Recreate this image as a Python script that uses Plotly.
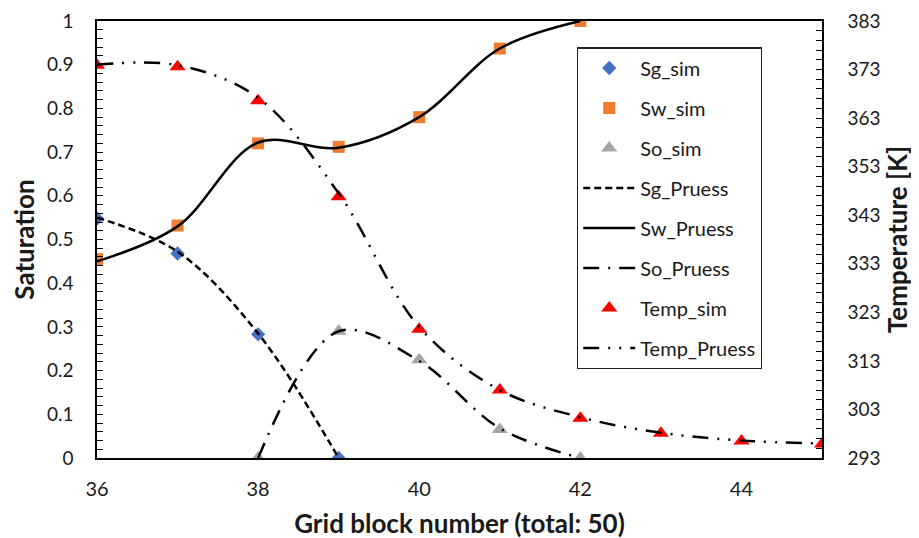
import plotly.graph_objects as go

# ---- data ----
x_sg_sim = [36, 37, 38, 39]
sg_sim = [0.548, 0.468, 0.283, 0.0]

x_sw_sim = [36, 37, 38, 39, 40, 41, 42]
sw_sim = [0.455, 0.532, 0.720, 0.712, 0.780, 0.937, 1.0]

x_so_sim = [38, 39, 40, 41, 42]
so_sim = [0.0, 0.290, 0.225, 0.065, 0.0]

x_temp_sim = [36, 37, 38, 39, 40, 41, 42, 43, 44, 45]
temp_sim = [373.9, 373.6, 366.6, 346.8, 319.5, 307.0, 301.2, 298.1, 296.5, 295.9]

x_sg_pr = [36, 37, 38, 39]
sg_pr = [0.550, 0.472, 0.285, 0.0]

x_sw_pr = [36, 37, 38, 39, 40, 41, 42]
sw_pr = [0.450, 0.530, 0.722, 0.710, 0.780, 0.937, 1.0]

x_so_pr = [38, 39, 40, 41, 42]
so_pr = [0.0, 0.290, 0.222, 0.068, 0.0]

x_temp_pr = [36, 37, 38, 39, 40, 41, 42, 43, 44, 45]
temp_pr = [374.0, 373.9, 367.2, 347.5, 320.0, 307.0, 301.4, 298.2, 296.6, 296.0]

sat_ticks = [0, 0.1, 0.2, 0.3, 0.4, 0.5, 0.6, 0.7, 0.8, 0.9, 1]
sat_labels = ["0", "0.1", "0.2", "0.3", "0.4", "0.5", "0.6", "0.7", "0.8", "0.9", "1"]
temp_ticks = [293, 303, 313, 323, 333, 343, 353, 363, 373, 383]
x_ticks = [36, 38, 40, 42, 44]

FONT = "Lato"
TXT = "#1a1a1a"

fig = go.Figure()

def add(tr, i):
    tr.legendgroup = "g%d" % i
    fig.add_trace(tr)

add(go.Scatter(x=x_sg_sim, y=sg_sim, mode="markers", name="Sg_sim",
               marker=dict(symbol="diamond", color="#4472C4", size=11)), 1)
add(go.Scatter(x=x_sw_sim, y=sw_sim, mode="markers", name="Sw_sim",
               marker=dict(symbol="square", color="#ED7D31", size=12)), 2)
add(go.Scatter(x=x_so_sim, y=so_sim, mode="markers", name="So_sim",
               marker=dict(symbol="triangle-up", color="#A5A5A5", size=14)), 3)
add(go.Scatter(x=x_sg_pr, y=sg_pr, mode="lines", name="Sg_Pruess",
               line=dict(color="black", width=2.5, dash="7px,4px", shape="spline")), 4)
add(go.Scatter(x=x_sw_pr, y=sw_pr, mode="lines", name="Sw_Pruess",
               line=dict(color="black", width=2.5, shape="spline")), 5)
add(go.Scatter(x=x_so_pr, y=so_pr, mode="lines", name="So_Pruess",
               line=dict(color="black", width=2.5, dash="16px,9px,2px,9px", shape="spline")), 6)
add(go.Scatter(x=x_temp_sim, y=temp_sim, mode="markers", name="Temp_sim", yaxis="y2",
               marker=dict(symbol="triangle-up", color="#FF0000", size=14)), 7)
add(go.Scatter(x=x_temp_pr, y=temp_pr, mode="lines", name="Temp_Pruess", yaxis="y2",
               line=dict(color="black", width=2.5, dash="16px,9px,2px,9px,2px,9px", shape="spline")), 8)

fig.update_layout(
    width=919, height=538,
    margin=dict(l=89, r=105, t=13, b=88, autoexpand=False),
    paper_bgcolor="white", plot_bgcolor="white",
    font=dict(family=FONT, size=19, color=TXT),
    showlegend=True,
    legend=dict(x=0.662, y=0.94, xanchor="left", yanchor="top",
                bgcolor="white", bordercolor="#222", borderwidth=1.3,
                font=dict(family=FONT, size=20, color=TXT),
                traceorder="grouped", tracegroupgap=11,
                itemwidth=52),
    xaxis=dict(range=[36, 45], tickvals=x_ticks, ticks="",
               showgrid=False, zeroline=False, automargin=False,
               showline=True, linecolor="black", linewidth=1.5, mirror=True,
               ticklabelstandoff=12,
               title=dict(text="<b>Grid block number (total: 50)</b>", font=dict(size=26), standoff=16),
               tickfont=dict(size=20)),
    yaxis=dict(range=[0, 1], tickvals=sat_ticks, ticktext=sat_labels,
               ticks="inside", ticklen=6, tickcolor="black", tickwidth=1.2,
               minor=dict(dtick=0.02, ticks="inside", ticklen=6, tickcolor="black", tickwidth=1.2),
               showgrid=False, zeroline=False, automargin=False,
               showline=True, linecolor="black", linewidth=1.5,
               ticklabelstandoff=18,
               title=dict(text="<b>Saturation</b>", font=dict(size=26), standoff=6),
               tickfont=dict(size=19)),
    yaxis2=dict(range=[293, 383], overlaying="y", side="right",
                tickvals=temp_ticks,
                ticks="inside", ticklen=6, tickcolor="black", tickwidth=1.2,
                minor=dict(dtick=2, tick0=293, ticks="inside", ticklen=6, tickcolor="black", tickwidth=1.2),
                showgrid=False, zeroline=False, automargin=False,
                showline=True, linecolor="black", linewidth=1.5,
                ticklabelstandoff=20,
                title=dict(text="<b>Temperature [K]</b>", font=dict(size=26), standoff=9),
                tickfont=dict(size=19)),
)

fig.write_html("out.html")
